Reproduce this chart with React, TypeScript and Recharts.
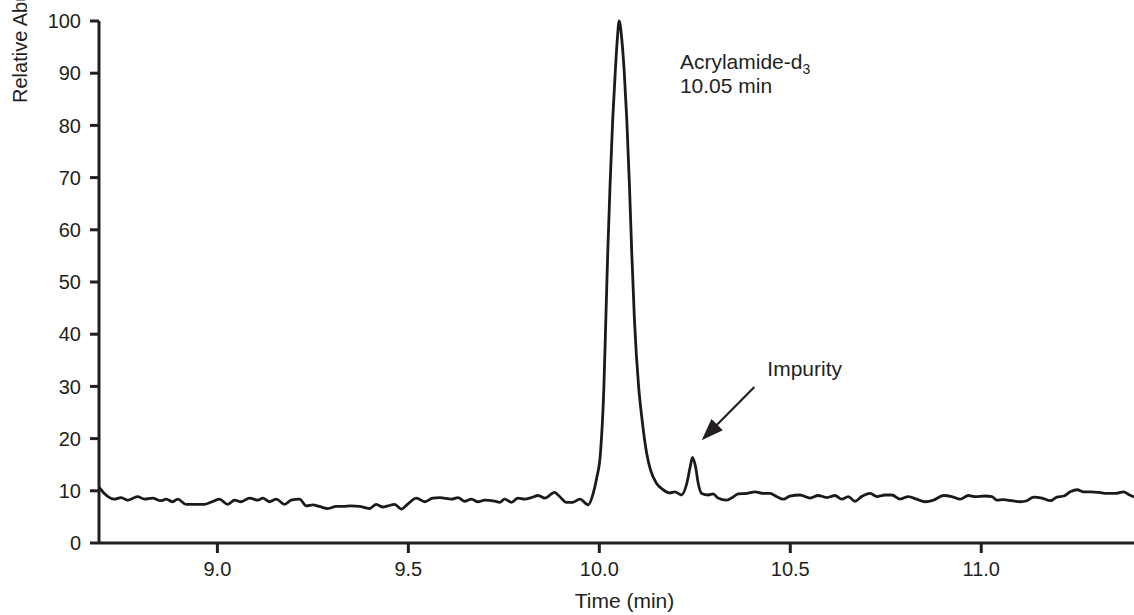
import { LineChart, Line, XAxis, YAxis, ReferenceLine, ReferenceDot } from "recharts";

// [time (min), relative abundance]
const baselineBefore: [number, number][] = [
  [8.69, 10.7], [8.704, 9.5], [8.73, 8.4], [8.748, 8.7], [8.765, 8.2], [8.791, 8.9],
  [8.809, 8.4], [8.83, 8.6], [8.852, 8.1], [8.866, 8.4], [8.883, 7.9], [8.896, 8.4],
  [8.918, 7.4], [8.94, 7.4], [8.966, 7.4], [8.983, 7.8], [9.005, 8.4], [9.027, 7.4],
  [9.045, 8.2], [9.062, 7.9], [9.084, 8.6], [9.106, 8.2], [9.119, 8.6], [9.136, 7.9],
  [9.154, 8.4], [9.176, 7.4], [9.193, 8.2], [9.215, 8.4], [9.233, 7.1], [9.25, 7.3],
  [9.267, 7.0], [9.289, 6.6], [9.311, 7.0], [9.328, 7.0], [9.35, 7.1], [9.372, 7.0],
  [9.398, 6.6], [9.416, 7.4], [9.433, 6.9], [9.446, 7.1], [9.464, 7.4], [9.482, 6.5],
  [9.499, 7.5], [9.521, 8.6], [9.543, 7.9], [9.564, 8.6], [9.582, 8.7], [9.613, 8.4],
  [9.63, 8.7], [9.647, 8.0], [9.665, 8.4], [9.682, 7.9], [9.7, 8.2], [9.726, 8.0],
  [9.739, 7.8], [9.752, 8.4], [9.77, 7.8], [9.787, 8.6], [9.805, 8.4], [9.822, 8.7],
  [9.84, 9.1], [9.857, 8.6], [9.883, 9.7], [9.896, 8.9], [9.914, 7.8], [9.931, 7.8],
  [9.949, 8.4],
];

const mainPeak: [number, number][] = [
  [9.971, 7.3], [9.984, 9.5], [9.993, 12.4], [10.003, 17.2], [10.012, 29.9], [10.017, 42.7],
  [10.022, 55.5], [10.028, 68.3], [10.035, 81], [10.042, 90.6], [10.047, 96.4], [10.052, 100],
  [10.059, 96.4], [10.065, 90.6], [10.072, 81], [10.079, 68.3], [10.085, 55.5], [10.092, 42.7],
  [10.103, 29.9], [10.112, 23.6], [10.124, 17.2], [10.134, 14], [10.15, 11.4], [10.167, 10.2],
  [10.185, 9.6], [10.198, 9.8],
];

const impurityPeak: [number, number][] = [
  [10.215, 9.2], [10.229, 11.4], [10.238, 14.6], [10.244, 16.4], [10.252, 14.6],
  [10.259, 11.4], [10.268, 9.5], [10.285, 9.2], [10.298, 9.4],
];

const baselineAfter: [number, number][] = [
  [10.311, 8.6], [10.333, 8.2], [10.346, 8.6], [10.364, 9.4], [10.386, 9.5], [10.408, 9.8],
  [10.429, 9.5], [10.447, 9.5], [10.464, 8.9], [10.482, 8.4], [10.499, 9.0], [10.525, 9.2],
  [10.552, 8.6], [10.573, 9.1], [10.596, 8.7], [10.617, 9.1], [10.635, 8.4], [10.652, 8.9],
  [10.669, 8.0], [10.687, 8.9], [10.709, 9.5], [10.727, 8.9], [10.748, 9.2], [10.766, 9.2],
  [10.788, 8.4], [10.809, 8.9], [10.831, 8.4], [10.853, 7.9], [10.875, 8.2], [10.901, 9.1],
  [10.923, 8.9], [10.945, 8.4], [10.966, 9.1], [10.984, 8.9], [11.01, 9.0], [11.028, 8.9],
  [11.041, 8.2], [11.058, 8.3], [11.08, 8.1], [11.102, 7.9], [11.12, 8.1], [11.137, 8.8],
  [11.159, 8.6], [11.181, 8.1], [11.198, 8.8], [11.216, 9.0], [11.233, 9.8], [11.251, 10.2],
  [11.268, 9.8], [11.286, 9.8], [11.307, 9.7], [11.329, 9.5], [11.351, 9.5], [11.373, 9.8],
  [11.386, 9.3], [11.4, 8.8],
];

const timeTicks = [9.0, 9.5, 10.0, 10.5, 11.0];
const abundanceTicks = [0, 10, 20, 30, 40, 50, 60, 70, 80, 90, 100];

// annotation anchors, in data units
const peakLabelAt = { time: 10.211, abundance: 90.9 };
const impurityLabelAt = { time: 10.44, abundance: 32 };
const arrowFrom = { x: 10.406, y: 29.9 };
const arrowTo = { x: 10.268, y: 19.7 };

const trace = [...baselineBefore, ...mainPeak, ...impurityPeak, ...baselineAfter].map(
  ([time, abundance]) => ({ time, abundance })
);

const INK = "#231f20";
const FONT = "'Liberation Sans', Arial, Helvetica, sans-serif";

const Arrow = (props: any) => {
  const { x1, y1, x2, y2 } = props;
  const dx = x2 - x1;
  const dy = y2 - y1;
  const len = Math.sqrt(dx * dx + dy * dy) || 1;
  const ux = dx / len;
  const uy = dy / len;
  const head = 22;
  const half = 8;
  const bx = x2 - ux * head;
  const by = y2 - uy * head;
  return (
    <g>
      <line x1={x1} y1={y1} x2={bx + ux * 2} y2={by + uy * 2} stroke={INK} strokeWidth={2.2} />
      <polygon
        points={`${x2},${y2} ${bx - uy * half},${by + ux * half} ${bx + uy * half},${by - ux * half}`}
        fill={INK}
      />
    </g>
  );
};

const PeakLabel = (props: any) => (
  <text x={props.cx} y={props.cy} fill={INK} fontSize={21} fontFamily={FONT}>
    <tspan>Acrylamide-d</tspan>
    <tspan fontSize={14} dy={5}>3</tspan>
    <tspan x={props.cx} dy={19.5}>10.05 min</tspan>
  </text>
);

const ImpurityLabel = (props: any) => (
  <text x={props.cx} y={props.cy} fill={INK} fontSize={21} fontFamily={FONT}>
    Impurity
  </text>
);

export default function App() {
  return (
    <div style={{ position: "absolute", left: 0, top: 0, background: "#fff" }}>
      <LineChart
        width={1134}
        height={615}
        data={trace}
        margin={{ top: 21, right: 0, bottom: 0, left: 0 }}
      >
        <XAxis
          dataKey="time"
          type="number"
          domain={[8.69, 11.4]}
          allowDataOverflow
          ticks={timeTicks}
          tickFormatter={(v: number) => v.toFixed(1)}
          height={72}
          tickSize={10}
          tickMargin={9}
          axisLine={{ stroke: INK, strokeWidth: 3 }}
          tickLine={{ stroke: INK, strokeWidth: 3 }}
          tick={{ fill: INK, fontSize: 20, fontFamily: FONT }}
          label={(p: any) => {
            const vb = p.viewBox || { x: 99, width: 1035, y: 543, height: 72 };
            return (
              <text
                x={vb.x + vb.width / 2 + 8}
                y={vb.y + vb.height - 7}
                textAnchor="middle"
                fill={INK}
                fontSize={21}
                fontFamily={FONT}
              >
                Time (min)
              </text>
            );
          }}
        />
        <YAxis
          type="number"
          domain={[0, 100]}
          ticks={abundanceTicks}
          interval={0}
          width={99}
          tickSize={9}
          tickMargin={9}
          axisLine={{ stroke: INK, strokeWidth: 3 }}
          tickLine={{ stroke: INK, strokeWidth: 3 }}
          tick={{ fill: INK, fontSize: 20, fontFamily: FONT }}
          label={() => (
            <text
              x={0}
              y={0}
              transform="translate(27, 103) rotate(-90)"
              textAnchor="start"
              fill={INK}
              fontSize={20}
              fontFamily={FONT}
            >
              Relative Abundance
            </text>
          )}
        />
        <Line
          dataKey="abundance"
          type="monotone"
          stroke="#1a1a1a"
          strokeWidth={2.8}
          dot={false}
          activeDot={false}
          isAnimationActive={false}
        />
        <ReferenceLine segment={[arrowFrom, arrowTo]} shape={Arrow} />
        <ReferenceDot
          x={peakLabelAt.time}
          y={peakLabelAt.abundance}
          r={0}
          shape={PeakLabel}
        />
        <ReferenceDot
          x={impurityLabelAt.time}
          y={impurityLabelAt.abundance}
          r={0}
          shape={ImpurityLabel}
        />
      </LineChart>
    </div>
  );
}
